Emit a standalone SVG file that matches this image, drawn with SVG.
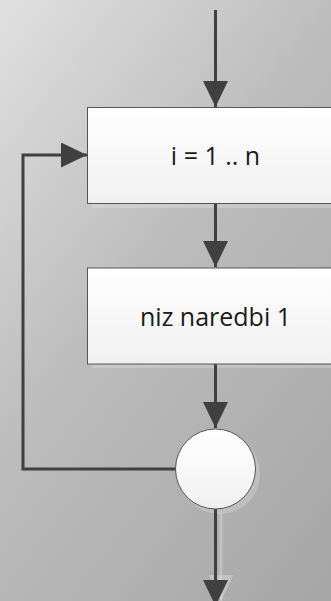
<svg xmlns="http://www.w3.org/2000/svg" width="331" height="601" viewBox="0 0 331 601">
  <defs>
    <linearGradient id="bg" gradientUnits="userSpaceOnUse" x1="0" y1="0" x2="499" y2="377">
      <stop offset="0" stop-color="#e0e0e0"/>
      <stop offset="0.45" stop-color="#bcbcbc"/>
      <stop offset="1" stop-color="#a6a6a6"/>
    </linearGradient>
    <linearGradient id="boxFill" x1="0" y1="0" x2="0" y2="1">
      <stop offset="0" stop-color="#ffffff"/>
      <stop offset="1" stop-color="#f0f0f0"/>
    </linearGradient>
    <marker id="arrow" viewBox="0 0 26 25" refX="26" refY="12.5" markerWidth="26" markerHeight="25" markerUnits="userSpaceOnUse" orient="auto">
      <path d="M0,0 L26,12.5 L0,25 Z" fill="#404040"/>
    </marker>
    <marker id="arrowShadow" viewBox="0 0 26 25" refX="26" refY="12.5" markerWidth="26" markerHeight="25" markerUnits="userSpaceOnUse" orient="auto">
      <path d="M0,0 L26,12.5 L0,25 Z" fill="#ffffff" fill-opacity="0.25"/>
    </marker>
  </defs>
  <style>
    .box { fill: url(#boxFill); stroke: #555555; stroke-width: 1; }
    .shadow { fill: #ffffff; fill-opacity: 0.2; stroke: none; }
    .edge { fill: none; stroke: #404040; stroke-width: 3; }
    .edgeShadow { fill: none; stroke: #ffffff; stroke-opacity: 0.25; stroke-width: 3; }
    .label { font-family: "Open Sans", "Liberation Sans", sans-serif; font-size: 25px; fill: #1a1a1a; text-anchor: middle; }
  </style>

  <rect width="331" height="601" fill="url(#bg)"/>

  <!-- soft drop shadows behind shapes and connectors -->
  <g id="shadows">
    <rect class="shadow" x="92" y="112" width="245" height="96"/>
    <rect class="shadow" x="92" y="272" width="245" height="96"/>
    <circle class="shadow" cx="220" cy="474" r="40"/>
    <path class="edgeShadow" d="M221,513 L221,601" marker-end="url(#arrowShadow)"/>
  </g>

  <g id="connectors">
    <path class="edge" d="M215.5,10 L215.5,107" marker-end="url(#arrow)"/>
    <path class="edge" d="M215.5,204 L215.5,267" marker-end="url(#arrow)"/>
    <path class="edge" d="M215.5,364 L215.5,428" marker-end="url(#arrow)"/>
    <path class="edge" d="M176,469 L23,469 L23,155 L87,155" marker-end="url(#arrow)"/>
    <path class="edge" d="M215.5,509 L215.5,606" marker-end="url(#arrow)"/>
  </g>

  <g id="loop-header">
    <rect class="box" x="87.5" y="107.5" width="250" height="96"/>
    <text class="label" x="215.5" y="165">i = 1 .. n</text>
  </g>

  <g id="statements">
    <rect class="box" x="87.5" y="268" width="250" height="96"/>
    <text class="label" x="215.5" y="325.5">niz naredbi 1</text>
  </g>

  <g id="loop-end">
    <circle class="box" cx="215.5" cy="469" r="40"/>
  </g>
</svg>
